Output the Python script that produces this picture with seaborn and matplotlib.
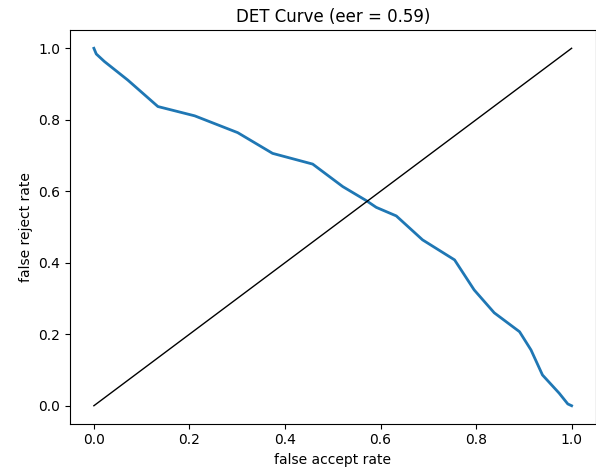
import matplotlib
matplotlib.use("Agg")
import matplotlib.pyplot as plt
import seaborn as sns
import pandas as pd

# DET curve: false accept rate vs false reject rate
far = [0.0, 0.005, 0.022, 0.071, 0.134, 0.211, 0.301, 0.374, 0.458, 0.521,
       0.570, 0.591, 0.633, 0.688, 0.755, 0.796, 0.838, 0.891, 0.915, 0.939,
       0.974, 0.992, 1.0]
frr = [1.0, 0.984, 0.963, 0.911, 0.837, 0.811, 0.764, 0.706, 0.676, 0.613,
       0.574, 0.555, 0.531, 0.464, 0.408, 0.324, 0.260, 0.207, 0.156, 0.086,
       0.035, 0.005, 0.0]
diag = [0.0, 1.0]
eer = 0.59

df = pd.DataFrame({"far": far, "frr": frr})

fig = plt.figure(figsize=(5.96, 4.72), dpi=100)
ax = fig.add_axes([70 / 596, 48.4 / 472, 525.5 / 596, 393.2 / 472])

sns.lineplot(data=df, x="far", y="frr", sort=False, ax=ax,
             color="#1f77b4", linewidth=2)
ax.plot(diag, diag, color="black", linewidth=1)

ax.set_xlim(-0.05, 1.05)
ax.set_ylim(-0.05, 1.05)
ax.set_xticks([0.0, 0.2, 0.4, 0.6, 0.8, 1.0])
ax.set_yticks([0.0, 0.2, 0.4, 0.6, 0.8, 1.0])
ax.set_xlabel("false accept rate")
ax.set_ylabel("false reject rate")
ax.set_title(f"DET Curve (eer = {eer:.2f})")

fig.savefig("out.png", dpi=100)
